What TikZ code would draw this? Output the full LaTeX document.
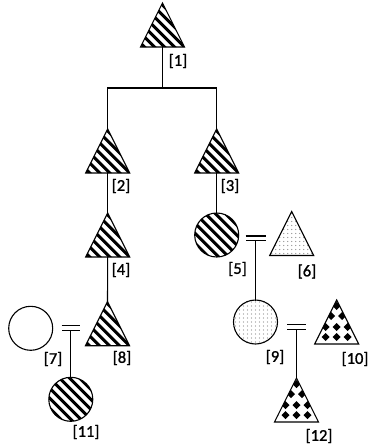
\documentclass[tikz,border=0pt]{standalone}
\usepackage{fontspec}
\setmainfont{Carlito}
\newfontfamily\tagfont{Carlito}[BoldFont={Carlito},BoldFeatures={FakeBold=1.2}]
\usetikzlibrary{shapes.geometric}

\begin{document}
\begin{tikzpicture}[x=1pt,y=-1pt,
  outline/.style={draw=black, line width=1.1pt, inner sep=0pt, outer sep=0pt},
  tri/.style={outline, isosceles triangle, shape border rotate=90,
    isosceles triangle stretches, minimum width=44pt, minimum height=44pt},
  ring/.style={outline, circle, minimum size=44pt},
  stripes/.style={path picture={
    \foreach \k in {-6,...,6}
      \draw[line width=3pt] ([shift={(\k*10-40,-40)}]path picture bounding box.center) -- ++(80,80);}},
  dotted fill/.style={path picture={
    \foreach \i in {-6,...,6} \foreach \j in {-6,...,6}
      \fill[black!45] ([shift={(\i*4,\j*4)}]path picture bounding box.center) circle (0.6pt);}},
  checks/.style={path picture={
    \foreach \dx/\dy in {0/6,-5.5/16,5.5/16,-11/27,0/27,11/27,-22/37,-11/37,0/37,11/37,22/37}
      \fill ([shift={(\dx,\dy-4)}]path picture bounding box.north)
        -- ++(4,4) -- ++(-4,4) -- ++(-4,-4) -- cycle;}},
  marriage/.style={inner sep=0pt, outer sep=0pt, minimum width=#1, minimum height=4.7pt},
  dbl/.style={draw=black, line width=1.1pt, double, double distance=3.6pt},
  link/.style={draw=black, line width=1.1pt, line cap=rect},
  tag/.style={inner sep=0pt, font=\tagfont\bfseries\fontsize{16.5}{18}\selectfont}
]
\useasboundingbox (0,0) rectangle (369,445);

% generation I
\node[tri, stripes, anchor=apex] (t1) at (162.5,3) {};
\coordinate (bm) at (162.5,88);
\coordinate (bl) at (107.7,88);
\coordinate (br) at (216.7,88);

% generation II
\node[tri, stripes, anchor=apex] (t2) at (107.7,129) {};
\node[tri, stripes, anchor=apex] (t3) at (216.7,129) {};

% generation III
\node[tri, stripes, anchor=apex] (t4) at (107.7,213) {};
\node[ring, stripes] (c5) at (216.7,235) {};
\node[tri, dotted fill, anchor=apex] (t6) at (291.7,211.5) {};
\node[marriage=20pt] (m56) at (255.5,238.3) {};

% generation IV
\node[ring, fill=white] (c7) at (30.7,328.3) {};
\node[tri, stripes, anchor=apex] (t8) at (107.5,301.7) {};
\node[marriage=18.3pt] (m78) at (70.8,327.8) {};
\node[ring, dotted fill] (c9) at (255.5,322) {};
\node[tri, checks, anchor=apex] (t10) at (336.7,300) {};
\node[marriage=19pt] (m910) at (296.5,327) {};

% generation V
\node[ring, stripes] (c11) at (70.8,399.3) {};
\node[tri, checks, anchor=apex] (t12) at (296.5,378) {};

% descent lines
\draw[link] (t1.lower side) -- (bm);
\draw[link] (bl) -- (br);
\draw[link] (bl) -- (t2.apex);
\draw[link] (br) -- (t3.apex);
\draw[link] (t2.lower side) -- (t4.apex);
\draw[link] (t3.lower side) -- (c5.north);
\draw[link] (t4.lower side) -- (t8.apex);

% marriages and their children
\draw[dbl] (m56.west) -- (m56.east);
\draw[link] (m56.south) -- (c9.north);
\draw[dbl] (m78.west) -- (m78.east);
\draw[link] (m78.south) -- (c11.north);
\draw[dbl] (m910.west) -- (m910.east);
\draw[link] (m910.south) -- (t12.apex);

% labels
\node[tag] (l1) at (178,61) {[1]};
\node[tag] (l2) at (121,186) {[2]};
\node[tag] (l3) at (230,186) {[3]};
\node[tag] (l4) at (121,270) {[4]};
\node[tag] (l5) at (237.5,269) {[5]};
\node[tag] (l6) at (307,271.5) {[6]};
\node[tag] (l7) at (53,359) {[7]};
\node[tag] (l8) at (122,358) {[8]};
\node[tag] (l9) at (275,357) {[9]};
\node[tag] (l10) at (355,359) {[10]};
\node[tag] (l11) at (86,432) {[11]};
\node[tag] (l12) at (319,436) {[12]};
\end{tikzpicture}
\end{document}
